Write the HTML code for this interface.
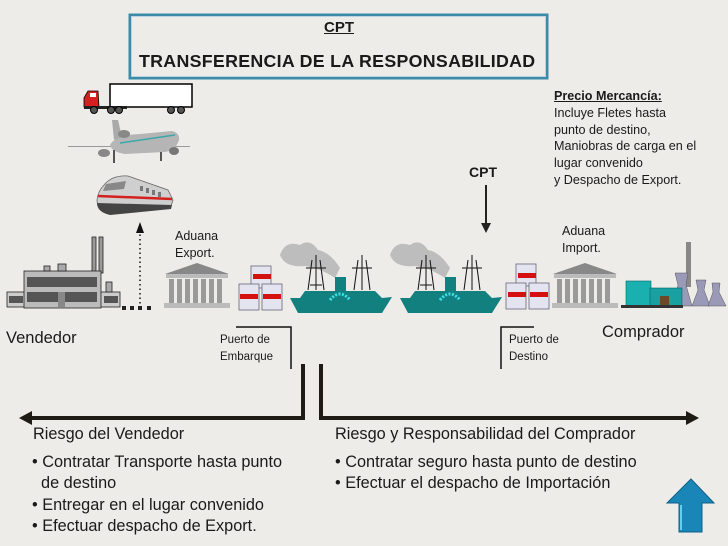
<!DOCTYPE html>
<html><head><meta charset="utf-8"><style>
html,body{margin:0;padding:0}
body{width:728px;height:546px;background:#eeece9;position:relative;overflow:hidden;font-family:"Liberation Sans",sans-serif;color:#1a1a1a}
.t{position:absolute;white-space:nowrap}
svg{position:absolute;left:0;top:0}
</style></head><body>
<svg width="728" height="546" viewBox="0 0 728 546">
<rect x="130" y="15" width="417" height="63" fill="#eeece9" stroke="#3a8aa8" stroke-width="3"/>
<rect x="131.5" y="16.5" width="414" height="60" fill="none" stroke="#b9d4de" stroke-width="1"/>
<!-- truck -->
<rect x="110" y="84" width="82" height="23" fill="#fff" stroke="#000" stroke-width="1.5"/>
<path d="M84 98 L88 91 L98 91 L99 107 L84 107 Z" fill="#d42020" stroke="#000" stroke-width="0.8"/>
<rect x="90" y="93" width="6" height="4" fill="#fff"/>
<rect x="84" y="106" width="43" height="3" fill="#222"/>
<circle cx="94" cy="110" r="3.5" fill="#555" stroke="#000"/><circle cx="111" cy="110" r="3.5" fill="#555" stroke="#000"/><circle cx="119" cy="110" r="3.5" fill="#555" stroke="#000"/>
<circle cx="171" cy="110" r="3.5" fill="#555" stroke="#000"/><circle cx="181" cy="110" r="3.5" fill="#555" stroke="#000"/>
<!-- plane -->
<path d="M68 146 L190 146 L190 147 L68 147Z" fill="#999"/>
<path d="M110 145 Q115 135 140 134 L172 131 Q180 133 179 140 Q176 150 165 152 L125 154 Q112 152 110 145Z" fill="#b5b5b5"/>
<path d="M112 120 L118 120 L122 137 L114 140Z" fill="#aaa"/>
<path d="M120 143 L175 135" stroke="#3aa8a8" stroke-width="1.5"/>
<ellipse cx="124" cy="134" rx="6" ry="4" fill="#888"/>
<ellipse cx="104" cy="153" rx="6" ry="4" fill="#888"/><ellipse cx="174" cy="151" rx="5" ry="4" fill="#777"/>
<rect x="113" y="150" width="2" height="13" fill="#555"/><rect x="160" y="152" width="2" height="9" fill="#555"/>
<!-- train -->
<path d="M104 185 Q112 175 128 176 L168 190 L173 200 L171 206 L110 214 Q97 211 97 200 Q98 191 104 185Z" fill="#cfcfcf" stroke="#666" stroke-width="0.8"/>
<path d="M106 184 L126 181 L124 189 L103 191Z" fill="#888"/>
<g fill="#777"><rect x="140" y="186" width="3" height="5"/><rect x="146" y="188" width="3" height="5"/><rect x="152" y="190" width="3" height="5"/><rect x="158" y="192" width="3" height="5"/></g>
<path d="M98 196 L172 199" stroke="#d42020" stroke-width="2.5"/>
<path d="M97 203 L172 205 L171 209 L110 215 Q97 212 97 203Z" fill="#444"/>
<!-- dotted arrow -->
<line x1="140" y1="230" x2="140" y2="306" stroke="#111" stroke-width="1.5" stroke-dasharray="1.5 3"/>
<path d="M136 233 L140 222 L144 233Z" fill="#111"/>
<g fill="#222"><rect x="122" y="306" width="4" height="4"/><rect x="130" y="306" width="4" height="4"/><rect x="138" y="306" width="4" height="4"/><rect x="147" y="306" width="4" height="4"/></g>
<!-- factory -->
<g stroke="#222" stroke-width="0.8">
<rect x="92" y="237" width="4" height="36" fill="#999"/><rect x="99" y="237" width="4" height="36" fill="#999"/>
<rect x="7" y="292" width="113" height="15" fill="#ccc"/>
<rect x="24" y="271" width="77" height="37" fill="#bbb"/>
<rect x="106" y="282" width="6" height="10" fill="#aaa"/>
<rect x="44" y="266" width="6" height="5" fill="#aaa"/><rect x="58" y="264" width="8" height="7" fill="#aaa"/>
</g>
<g fill="#555"><rect x="27" y="277" width="70" height="10"/><rect x="27" y="292" width="70" height="10"/><rect x="9" y="296" width="14" height="7"/><rect x="104" y="296" width="14" height="7"/></g>
<rect x="58" y="292" width="7" height="15" fill="#888"/>
<!-- customs -->
<g fill="#9a9a9a">
<path d="M165 274 L197 263 L229 274Z" fill="#888"/><rect x="166" y="274" width="62" height="4" fill="#bbb"/>
<rect x="169" y="279" width="5" height="24"/><rect x="177" y="279" width="5" height="24"/><rect x="185" y="279" width="5" height="24"/><rect x="193" y="279" width="5" height="24"/><rect x="201" y="279" width="5" height="24"/><rect x="209" y="279" width="5" height="24"/><rect x="217" y="279" width="5" height="24"/>
<rect x="164" y="303" width="66" height="5" fill="#bbb"/>
<path d="M553 274 L585 263 L617 274Z" fill="#888"/><rect x="554" y="274" width="62" height="4" fill="#bbb"/>
<rect x="557" y="279" width="5" height="24"/><rect x="565" y="279" width="5" height="24"/><rect x="573" y="279" width="5" height="24"/><rect x="581" y="279" width="5" height="24"/><rect x="589" y="279" width="5" height="24"/><rect x="597" y="279" width="5" height="24"/><rect x="605" y="279" width="5" height="24"/>
<rect x="552" y="303" width="66" height="5" fill="#bbb"/>
</g>
<!-- crates -->
<g stroke="#667" stroke-width="0.8" fill="#e4e4f0">
<rect x="251" y="266" width="20" height="22"/><rect x="239" y="284" width="20" height="26"/><rect x="262" y="284" width="20" height="26"/>
<rect x="516" y="264" width="20" height="22"/><rect x="506" y="283" width="20" height="26"/><rect x="529" y="283" width="20" height="26"/>
</g>
<g fill="#d41010"><rect x="253" y="274" width="18" height="5"/><rect x="240" y="294" width="18" height="5"/><rect x="263" y="294" width="18" height="5"/>
<rect x="518" y="273" width="18" height="5"/><rect x="508" y="292" width="18" height="5"/><rect x="530" y="292" width="18" height="5"/></g>
<!-- ships -->
<g id="ship">
<path d="M280 255 Q285 240 300 245 Q310 238 318 250 Q330 252 340 268 L335 278 Q320 268 305 266 Q285 268 280 255Z" fill="#bdbdbd"/>
<g stroke="#111" stroke-width="1"><line x1="316" y1="255" x2="316" y2="290"/><line x1="306" y1="268" x2="326" y2="268"/><line x1="310" y1="285" x2="322" y2="285"/><line x1="312" y1="260" x2="308" y2="290"/><line x1="320" y1="260" x2="324" y2="290"/>
<line x1="362" y1="255" x2="362" y2="290"/><line x1="352" y1="268" x2="372" y2="268"/><line x1="358" y1="260" x2="354" y2="290"/><line x1="366" y1="260" x2="370" y2="290"/></g>
<rect x="335" y="277" width="11" height="14" fill="#138080"/>
<path d="M290 298 L300 298 L305 291 L375 291 L382 298 L392 297 L382 313 L298 313Z" fill="#138080"/>
<path d="M330 300 Q340 288 350 300" stroke="#3de0e8" stroke-width="3" fill="none" stroke-dasharray="2 1.5"/>
</g>
<use href="#ship" transform="translate(110 0)"/>
<!-- plant -->
<rect x="686" y="242" width="5" height="45" fill="#888"/>
<path d="M675 273 L688 273 L686 285 L692 306 L672 306 L678 285Z" fill="#9a9ab8" stroke="#555" stroke-width="0.5"/>
<path d="M696 280 L706 280 L704 290 L710 306 L692 306 L698 290Z" fill="#9a9ab8" stroke="#555" stroke-width="0.5"/>
<path d="M712 283 L720 283 L719 292 L726 306 L708 306 L713 292Z" fill="#9a9ab8" stroke="#555" stroke-width="0.5"/>
<rect x="626" y="281" width="25" height="26" fill="#1ab0b0" stroke="#066" stroke-width="0.6"/>
<rect x="650" y="288" width="32" height="19" fill="#1aa0a0" stroke="#066" stroke-width="0.6"/>
<rect x="660" y="296" width="9" height="11" fill="#6b4a2a"/>
<rect x="621" y="305" width="62" height="3" fill="#333"/>
<!-- brackets -->
<g stroke="#111" stroke-width="1.5" fill="none">
<polyline points="236,327 291,327 291,369"/>
<polyline points="534,327 501,327 501,369"/>
</g>
<g stroke="#1e1a14" stroke-width="4" fill="none">
<polyline points="303,364 303,418 30,418"/>
<polyline points="321,364 321,418 688,418"/>
</g>
<path d="M32 411 L19 418 L32 425Z" fill="#1e1a14"/>
<path d="M686 411 L699 418 L686 425Z" fill="#1e1a14"/>
<!-- CPT arrow -->
<line x1="486" y1="185" x2="486" y2="224" stroke="#222" stroke-width="2"/>
<path d="M481 223 L486 233 L491 223Z" fill="#222"/>
<!-- blue arrow -->
<path d="M691 479 L714 503 L702 503 L702 532 L679 532 L679 503 L667 503Z" fill="#1a86b8" stroke="#0f5f88" stroke-width="1"/>
<line x1="681" y1="505" x2="681" y2="530" stroke="#5fd0f0" stroke-width="2"/>
</svg>
<div class="t" style="left:324px;top:19px;font-size:15px;font-weight:bold;text-decoration:underline">CPT</div>
<div class="t" style="left:139px;top:51px;font-size:17.8px;font-weight:bold;letter-spacing:0.3px">TRANSFERENCIA DE LA RESPONSABILIDAD</div>
<div class="t" style="left:554px;top:88px;font-size:12.6px;line-height:16.8px"><b><u>Precio Mercancía:</u></b><br>Incluye Fletes hasta<br>punto de destino,<br>Maniobras de carga en el<br>lugar convenido<br>y Despacho de Export.</div>
<div class="t" style="left:469px;top:164px;font-size:14px;font-weight:bold">CPT</div>
<div class="t" style="left:175px;top:228px;font-size:12.5px;line-height:17px">Aduana<br>Export.</div>
<div class="t" style="left:562px;top:223px;font-size:12.5px;line-height:17px">Aduana<br>Import.</div>
<div class="t" style="left:6px;top:329px;font-size:16.5px">Vendedor</div>
<div class="t" style="left:602px;top:323px;font-size:16.5px">Comprador</div>
<div class="t" style="left:220px;top:332px;font-size:11.5px;line-height:17px">Puerto de<br>Embarque</div>
<div class="t" style="left:509px;top:332px;font-size:11.5px;line-height:17px">Puerto de<br>Destino</div>
<div class="t" style="left:33px;top:425px;font-size:16.3px">Riesgo del Vendedor</div>
<div class="t" style="left:335px;top:425px;font-size:16.3px">Riesgo y Responsabilidad del Comprador</div>
<div class="t" style="left:32px;top:452px;font-size:16.3px;line-height:21.4px">• Contratar Transporte hasta punto<br>&nbsp;&nbsp;de destino<br>• Entregar en el lugar convenido<br>• Efectuar despacho de Export.</div>
<div class="t" style="left:335px;top:452px;font-size:16.3px;line-height:21.4px">• Contratar seguro hasta punto de destino<br>• Efectuar el despacho de Importación</div>
</body></html>
